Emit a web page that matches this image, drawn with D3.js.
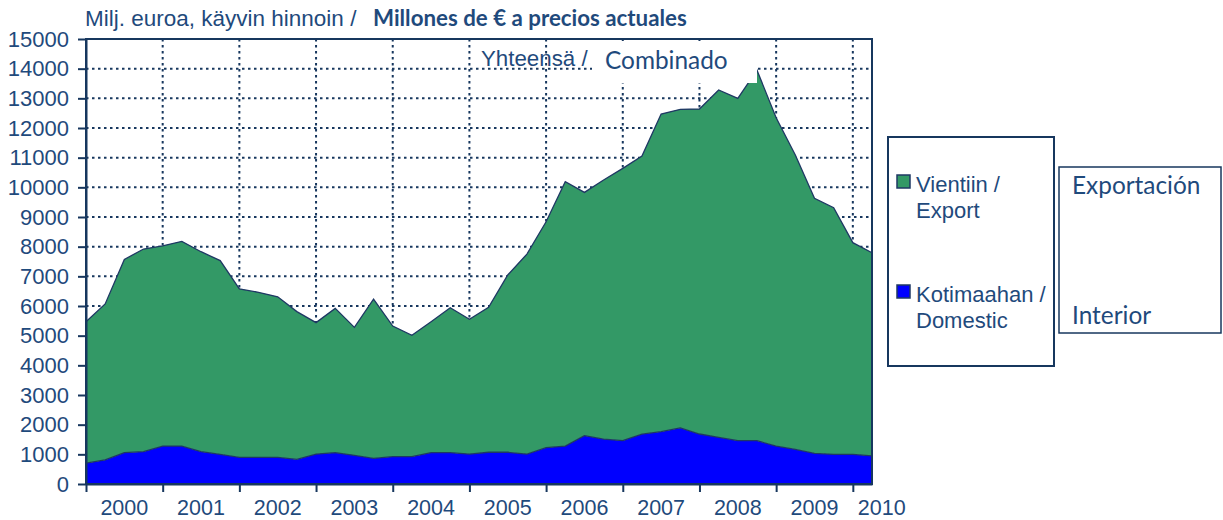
<!DOCTYPE html>
<html>
<head>
<meta charset="utf-8">
<script src="https://cdn.jsdelivr.net/npm/d3@7"></script>
<style>
  body { margin: 0; background: #fff; }
  svg { display: block; }
</style>
</head>
<body>
<script>
// Quarterly data 2000Q1 .. 2010Q2 (million EUR, current prices)
const quarters = [];
for (let yr = 2000; yr <= 2010; yr++) {
  for (let q = 1; q <= 4; q++) {
    if (yr === 2010 && q > 2) break;
    quarters.push(yr + 'Q' + q);
  }
}

const domestic = [
  700, 810, 1055, 1090, 1280, 1280, 1090, 1000, 900, 900, 900, 830,
  1010, 1055, 965, 865, 920, 920, 1055, 1055, 1010, 1070, 1070, 1010,
  1225, 1280, 1630, 1515, 1460, 1685, 1765, 1890, 1685, 1575, 1460, 1460,
  1280, 1170, 1035, 1000, 1000, 945
];

const exportVals = [
  4770, 5260, 6515, 6830, 6750, 6900, 6740, 6530, 5680, 5560, 5410, 4980,
  4430, 4865, 4315, 5370, 4405, 4090, 4415, 4885, 4540, 4885, 5975, 6740,
  7615, 8910, 8200, 8730, 9180, 9370, 10705, 10740, 10955, 11705, 11540, 12490,
  11065, 9920, 8595, 8315, 7135, 6850
];

const years = ['2000', '2001', '2002', '2003', '2004', '2005', '2006', '2007', '2008', '2009', '2010'];
const yTicks = d3.range(0, 15001, 1000);

const navy = '#17375e';
const textCol = '#1f4a7c';
const green = '#339966';
const blue = '#0000ff';
const arial = '"Liberation Sans", Arial, sans-serif';
const calibri = 'Lato, "Open Sans", sans-serif';

const W = 1223, H = 520;
const plot = { left: 86, right: 872, top: 39, bottom: 484 };

const svg = d3.select('body')
  .append('svg')
  .attr('width', W)
  .attr('height', H);

const x = d3.scaleLinear()
  .domain([0, quarters.length - 1])
  .range([plot.left, plot.right]);

const y = d3.scaleLinear()
  .domain([0, 15000])
  .range([plot.bottom, plot.top]);

const rows = quarters.map((q, i) => ({ q, i, domestic: domestic[i], export: exportVals[i] }));
const stacked = d3.stack().keys(['domestic', 'export'])(rows);

// grid
const grid = svg.append('g');
grid.selectAll('.hgrid')
  .data(yTicks.filter((v) => v > 0 && v < 15000))
  .enter()
  .append('line')
  .attr('x1', plot.left)
  .attr('x2', plot.right)
  .attr('y1', (d) => y(d))
  .attr('y2', (d) => y(d))
  .attr('stroke', navy)
  .attr('stroke-width', 2)
  .attr('stroke-dasharray', '2.5,3.5');

const yearIdx = d3.range(4, quarters.length, 4);
grid.selectAll('.vgrid')
  .data(yearIdx)
  .enter()
  .append('line')
  .attr('x1', (d) => x(d))
  .attr('x2', (d) => x(d))
  .attr('y1', plot.top)
  .attr('y2', plot.bottom)
  .attr('stroke', navy)
  .attr('stroke-width', 2)
  .attr('stroke-dasharray', '2.5,3.5');

// stacked areas
const area = d3.area()
  .x((d) => x(d.data.i))
  .y0((d) => y(d[0]))
  .y1((d) => y(d[1]));

const topLine = d3.line()
  .x((d) => x(d.data.i))
  .y((d) => y(d[1]));

const colors = [blue, green];
svg.selectAll('.layer')
  .data(stacked)
  .enter()
  .append('path')
  .attr('d', area)
  .attr('fill', (_, i) => colors[i]);

svg.selectAll('.edge')
  .data(stacked)
  .enter()
  .append('path')
  .attr('d', topLine)
  .attr('fill', 'none')
  .attr('stroke', '#1f3864')
  .attr('stroke-width', 1.3);

// plot frame
svg.append('rect')
  .attr('x', plot.left)
  .attr('y', plot.top)
  .attr('width', plot.right - plot.left)
  .attr('height', plot.bottom - plot.top)
  .attr('fill', 'none')
  .attr('stroke', navy)
  .attr('stroke-width', 2);

// axes
const yAxis = svg.append('g')
  .attr('transform', `translate(${plot.left},0)`)
  .call(d3.axisLeft(y).tickValues(yTicks).tickFormat(d3.format('d'))
    .tickSize(8).tickPadding(9).tickSizeOuter(0));
yAxis.select('.domain').attr('stroke', navy).attr('stroke-width', 2);
yAxis.selectAll('.tick line').attr('stroke', navy).attr('stroke-width', 2);
yAxis.selectAll('.tick text')
  .attr('fill', textCol)
  .style('font-family', arial)
  .style('font-size', '22px');

const xAxis = svg.append('g')
  .attr('transform', `translate(0,${plot.bottom})`)
  .call(d3.axisBottom(x).tickValues(d3.range(0, quarters.length, 4)).tickSize(8).tickFormat('').tickSizeOuter(0));
xAxis.select('.domain').attr('stroke', navy).attr('stroke-width', 2);
xAxis.selectAll('.tick line').attr('stroke', navy).attr('stroke-width', 2);

svg.selectAll('.year')
  .data(years)
  .enter()
  .append('text')
  .attr('x', (d, i) => (i < 10 ? x(i * 4 + 2) : x(40) + 5))
  .attr('y', 515)
  .attr('text-anchor', (d, i) => (i < 10 ? 'middle' : 'start'))
  .attr('fill', textCol)
  .style('font-family', arial)
  .style('font-size', '21.5px')
  .text((d) => d);

// title
svg.append('text')
  .attr('x', 85)
  .attr('y', 26)
  .attr('fill', textCol)
  .style('font-family', arial)
  .style('font-size', '22.5px')
  .text('Milj. euroa, käyvin hinnoin /');

svg.append('text')
  .attr('x', 373)
  .attr('y', 26)
  .attr('fill', textCol)
  .style('font-family', calibri)
  .style('font-size', '22.3px')
  .style('font-weight', 'bold')
  .text('Millones de € a precios actuales');

// "Combinado" box over the plot
svg.append('rect')
  .attr('x', 592)
  .attr('y', 41)
  .attr('width', 165)
  .attr('height', 42)
  .attr('fill', '#fff');

svg.append('text')
  .attr('x', 481)
  .attr('y', 66)
  .attr('fill', textCol)
  .style('font-family', arial)
  .style('font-size', '22.3px')
  .text('Yhteensä /');

svg.append('text')
  .attr('x', 605)
  .attr('y', 69)
  .attr('fill', textCol)
  .style('font-family', calibri)
  .style('font-size', '24.4px')
  .text('Combinado');

// legend
const legend = svg.append('g');
legend.append('rect')
  .attr('x', 888)
  .attr('y', 137)
  .attr('width', 166)
  .attr('height', 229)
  .attr('fill', '#fff')
  .attr('stroke', navy)
  .attr('stroke-width', 2);

const legendItems = [
  { color: green, lines: ['Vientiin /', 'Export'], y: 192 },
  { color: blue, lines: ['Kotimaahan /', 'Domestic'], y: 302 }
];

const item = legend.selectAll('.item')
  .data(legendItems)
  .enter()
  .append('g');

item.append('rect')
  .attr('x', 897)
  .attr('y', (d) => d.y - 17)
  .attr('width', 13)
  .attr('height', 13)
  .attr('fill', (d) => d.color)
  .attr('stroke', '#1f3864')
  .attr('stroke-width', 1.5);

item.append('text')
  .attr('fill', textCol)
  .style('font-family', arial)
  .style('font-size', '22px')
  .selectAll('tspan')
  .data((d) => d.lines.map((t, k) => ({ t, k, y: d.y })))
  .enter()
  .append('tspan')
  .attr('x', 916)
  .attr('y', (d) => d.y + d.k * 26)
  .text((d) => d.t);

// Spanish legend box
svg.append('rect')
  .attr('x', 1059)
  .attr('y', 167)
  .attr('width', 162)
  .attr('height', 166)
  .attr('fill', '#fff')
  .attr('stroke', navy)
  .attr('stroke-width', 1.5);

svg.selectAll('.es')
  .data([{ t: 'Exportación', y: 194 }, { t: 'Interior', y: 324 }])
  .enter()
  .append('text')
  .attr('x', 1072)
  .attr('y', (d) => d.y)
  .attr('fill', textCol)
  .style('font-family', calibri)
  .style('font-size', '24.4px')
  .text((d) => d.t);
</script>
</body>
</html>
